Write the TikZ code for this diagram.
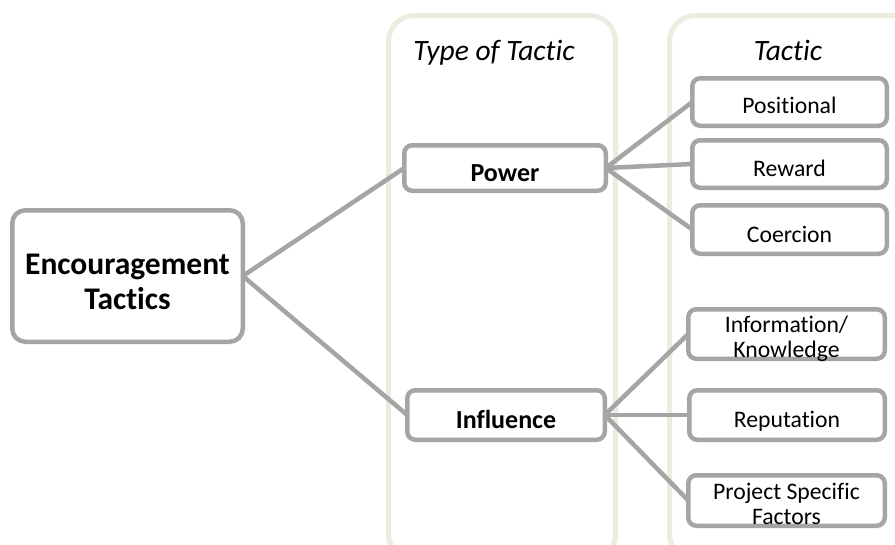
\documentclass[tikz,border=0pt]{standalone}
\usepackage{fontspec}
\setmainfont[Ligatures=NoCommon]{Carlito}
\definecolor{boxgray}{HTML}{A5A5A5}
\definecolor{paneltan}{HTML}{EEECE1}
\begin{document}
\begin{tikzpicture}[x=1pt,y=-1pt,
  panel/.style={draw=paneltan, line width=5pt, rounded corners=26pt},
  box/.style={draw=boxgray, line width=4.5pt, fill=white, rounded corners=8pt, inner sep=0pt, outer sep=0pt},
  bigbox/.style={box, rounded corners=13pt},
  link/.style={draw=boxgray, line width=4.5pt},
  head/.style={font=\fontsize{29.5}{35}\selectfont\itshape, anchor=base, inner sep=0pt},
  bigtxt/.style={font=\fontsize{31.5}{35}\selectfont\bfseries, align=center, inner sep=0pt},
  midtxt/.style={font=\fontsize{26}{30}\selectfont\bfseries, anchor=base, inner sep=0pt},
  smalltxt/.style={font=\fontsize{23.7}{25}\selectfont, anchor=base, inner sep=0pt},
  twotxt/.style={font=\fontsize{23.7}{25}\selectfont, align=center, inner sep=0pt}
]
\useasboundingbox (0,0) rectangle (895,544);
\clip (0,0) rectangle (895,544);
\fill[white] (0,0) rectangle (895,544);
% panels
\draw[panel] (388.5,560) rectangle (615.5,15.5);
\draw[panel] (669.5,560) rectangle (930,15.5);
\node[head] (h1) at (494,60) {Type of Tactic};
\node[head] (h2) at (788,60) {Tactic};
% boxes
\node[bigbox, minimum width=230.5pt, minimum height=131.5pt] (enc) at (127.5,276) {};
\node[box, minimum width=201.5pt, minimum height=45.5pt] (pow) at (505,168) {};
\node[box, minimum width=197.5pt, minimum height=49.5pt] (inf) at (506,415) {};
\node[box, minimum width=194.5pt, minimum height=47.5pt] (pos) at (789.5,102) {};
\node[box, minimum width=194.5pt, minimum height=47.5pt] (rew) at (789.5,164) {};
\node[box, minimum width=194.5pt, minimum height=48.5pt] (coe) at (789.5,229.5) {};
\node[box, minimum width=196.5pt, minimum height=49.5pt] (info) at (786.5,334) {};
\node[box, minimum width=195.5pt, minimum height=49.5pt] (rep) at (787,415) {};
\node[box, minimum width=196.5pt, minimum height=50.5pt] (proj) at (786.5,500.5) {};
% connectors
\draw[link] (enc.east) -- (pow.west);
\draw[link] (enc.east) -- (inf.west);
\draw[link] (pow.east) -- (pos.west);
\draw[link] (pow.east) -- (rew.west);
\draw[link] (pow.east) -- (coe.west);
\draw[link] (inf.east) -- (info.west);
\draw[link] (inf.east) -- (rep.west);
\draw[link] (inf.east) -- (proj.west);
% texts
\node[bigtxt] (enct) at (127.5,281.5) {Encouragement\\Tactics};
\node[midtxt] (powt) at (505,181) {Power};
\node[midtxt] (inft) at (506,428) {Influence};
\node[smalltxt] (post) at (789.5,113.5) {Positional};
\node[smalltxt] (rewt) at (789.5,176.5) {Reward};
\node[smalltxt] (coet) at (789.5,242) {Coercion};
\node[twotxt] (infot) at (786.5,339) {Information/\\Knowledge};
\node[smalltxt] (rept) at (787,427) {Reputation};
\node[twotxt] (projt) at (786.5,503.5) {Project Specific\\Factors};
\end{tikzpicture}
\end{document}
